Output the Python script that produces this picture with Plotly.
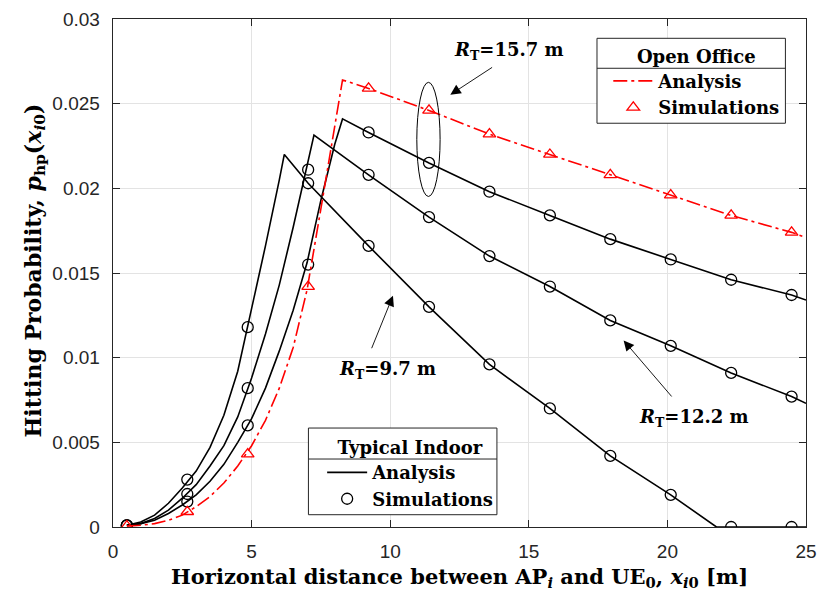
import plotly.graph_objects as go

# ---------------- data ----------------
x_sim = [0.5, 2.68, 4.86, 7.04, 9.22, 11.4, 13.58, 15.76, 17.94, 20.12, 22.3, 24.48]

# Typical Indoor, R_T = 9.7 m
x_a97 = [0.5, 1, 1.5, 2, 2.5, 3, 3.5, 4, 4.5, 5, 5.5, 6, 6.18, 7.04, 9.22, 11.4, 13.58, 15.76, 17.94, 20.12, 21.77, 25]
y_a97 = [0.0001, 0.0003, 0.0007, 0.0014, 0.0023, 0.0033, 0.0047, 0.0066, 0.0092, 0.0128, 0.0166, 0.0205, 0.0220,
         0.0203, 0.0166, 0.0130, 0.0096, 0.0070, 0.0042, 0.0019, 0.0, 0.0]
s_97 = [0.0001, 0.0028, 0.0118, 0.0203, 0.0166, 0.0130, 0.0096, 0.0070, 0.0042, 0.0019, 0.0, 0.0]

# Typical Indoor, R_T = 12.2 m
x_a122 = [0.5, 1, 1.5, 2, 2.5, 3, 3.5, 4, 4.5, 5, 5.5, 6, 6.5, 7, 7.25, 9.22, 11.4, 13.58, 15.76, 17.94, 20.12, 22.3, 24.48, 25]
y_a122 = [0.0001, 0.0002, 0.0005, 0.0010, 0.0017, 0.0025, 0.0036, 0.0048, 0.0065, 0.0088, 0.0114, 0.0143, 0.0177,
          0.0213, 0.02315, 0.0208, 0.0183, 0.0160, 0.0142, 0.0122, 0.0107, 0.0091, 0.0077, 0.0073]
s_122 = [0.0001, 0.00195, 0.0082, 0.0211, 0.0208, 0.0183, 0.0160, 0.0142, 0.0122, 0.0107, 0.0091, 0.0077]

# Typical Indoor, R_T = 15.7 m
x_a157 = [0.5, 1, 1.5, 2, 2.5, 3, 3.5, 4, 4.5, 5, 5.5, 6, 6.5, 7, 7.5, 8, 8.28, 9.22, 11.4, 13.58, 15.76, 17.94, 20.12, 22.3, 24.48, 25]
y_a157 = [0.0001, 0.0002, 0.0004, 0.0008, 0.0013, 0.0019, 0.0027, 0.0037, 0.0050, 0.0064, 0.0082, 0.0104, 0.0128,
          0.0156, 0.0193, 0.0226, 0.0241, 0.0233, 0.0215, 0.0198, 0.0184, 0.0170, 0.0158, 0.0146, 0.0137, 0.0134]
s_157 = [0.0001, 0.0015, 0.0060, 0.0155, 0.0233, 0.0215, 0.0198, 0.0184, 0.0170, 0.0158, 0.0146, 0.0137]

# Open Office, R_T = 15.7 m
x_oo = [0.5, 1, 1.5, 2, 2.5, 3, 3.5, 4, 4.5, 5, 5.5, 6, 6.5, 7, 7.5, 8, 8.28, 9.22, 11.4, 13.58, 15.76, 17.94, 20.12, 22.3, 24.48, 25]
y_oo = [0.00005, 0.0001, 0.0002, 0.0004, 0.0007, 0.0012, 0.0018, 0.0026, 0.0036, 0.0048, 0.0063, 0.0082, 0.0106,
        0.0140, 0.0188, 0.0237, 0.0264, 0.0259, 0.0246, 0.0232, 0.0220, 0.0208, 0.0196, 0.0184, 0.0174, 0.0171]
s_oo = [0.00005, 0.0009, 0.0043, 0.0142, 0.0259, 0.0246, 0.0232, 0.0220, 0.0208, 0.0196, 0.0184, 0.0174]

x_ticks = [0, 5, 10, 15, 20, 25]
y_ticks = [0, 0.005, 0.01, 0.015, 0.02, 0.025, 0.03]
y_tick_text = ["0", "0.005", "0.01", "0.015", "0.02", "0.025", "0.03"]

# ---------------- styling ----------------
SERIF = "DejaVu Serif"
SANS = "Liberation Sans"
AX = "#262626"
GRID = "#e3e3e3"

fig = go.Figure()

def line(x, y, color, dash, show, legend, name):
    fig.add_trace(go.Scatter(x=x, y=y, mode="lines", line=dict(color=color, width=1.6, dash=dash),
                             name=name, showlegend=show, legend=legend, hoverinfo="skip"))

def sims(y, color, symbol, show, legend, name):
    fig.add_trace(go.Scatter(x=x_sim, y=y, mode="markers",
                             marker=dict(symbol=symbol, size=11, color=color,
                                         line=dict(color=color, width=1.3)),
                             name=name, showlegend=show, legend=legend, hoverinfo="skip"))

line(x_a97, y_a97, "black", "solid", True, "legend", "<b>Analysis</b>")
line(x_a122, y_a122, "black", "solid", False, "legend", "Analysis")
line(x_a157, y_a157, "black", "solid", False, "legend", "Analysis")
sims(s_97, "black", "circle-open", True, "legend", "<b>Simulations</b>")
sims(s_122, "black", "circle-open", False, "legend", "Simulations")
sims(s_157, "black", "circle-open", False, "legend", "Simulations")
line(x_oo, y_oo, "#ff0000", "14px,4px,3px,4px", True, "legend2", "<b>Analysis</b>")
sims(s_oo, "#ff0000", "triangle-up-open", True, "legend2", "<b>Simulations</b>")

ann_font = dict(family=SERIF, size=18, color="black")

annotations = []
for (tx, ty, txt) in [(14.3, 0.0281, "<b><i>R</i><sub>T</sub>=15.7 m</b>"),
                      (9.91, 0.0093, "<b><i>R</i><sub>T</sub>=9.7 m</b>"),
                      (20.95, 0.00644, "<b><i>R</i><sub>T</sub>=12.2 m</b>")]:
    annotations.append(dict(x=tx, y=ty, xref="x", yref="y", text=txt, showarrow=False,
                            font=ann_font, xanchor="center", yanchor="middle"))
for (hx, hy, tx, ty) in [(12.17, 0.02553, 13.73, 0.0272),
                         (10.10, 0.01366, 9.31, 0.01047),
                         (18.42, 0.01102, 20.20, 0.00762)]:
    annotations.append(dict(x=hx, y=hy, ax=tx, ay=ty, xref="x", yref="y", axref="x", ayref="y",
                            text="", showarrow=True, arrowhead=2, arrowsize=2.3, arrowwidth=0.9,
                            arrowcolor="black"))
annotations.append(dict(x=-0.1126, y=0.505, xref="paper", yref="paper", textangle=-90,
                        text="<b>Hitting Probability, <i>p</i><sub>hp</sub>(<i>x</i><sub><i>i</i>0</sub>)</b>",
                        showarrow=False, font=dict(family=SERIF, size=22, color="black"),
                        xanchor="center", yanchor="middle"))
annotations.append(dict(x=0.5, y=-0.0997, xref="paper", yref="paper",
                        text="<b>Horizontal distance between AP<sub><i>i</i></sub> and UE<sub>0</sub>, "
                             "<i>x</i><sub><i>i</i>0</sub> [m]</b>",
                        showarrow=False, font=dict(family=SERIF, size=21, color="black"),
                        xanchor="center", yanchor="middle"))

box_line = dict(color=AX, width=1)
shapes = [
    dict(type="circle", xref="x", yref="y", x0=10.96, x1=11.80, y0=0.01952, y1=0.02626,
         line=dict(color="black", width=1)),
    # legend frames (Typical Indoor / Open Office) with title separators
    dict(type="rect", xref="paper", yref="paper", x0=0.2820, x1=0.5540, y0=0.0242, y1=0.1948,
         fillcolor="white", line=box_line, layer="above"),
    dict(type="line", xref="paper", yref="paper", x0=0.2820, x1=0.5540, y0=0.1338, y1=0.1338,
         line=box_line, layer="above"),
    dict(type="rect", xref="paper", yref="paper", x0=0.6984, x1=0.9703, y0=0.7948, y1=0.9620,
         fillcolor="white", line=box_line, layer="above"),
    dict(type="line", xref="paper", yref="paper", x0=0.6984, x1=0.9703, y0=0.9030, y1=0.9030,
         line=box_line, layer="above"),
]

legend_common = dict(bgcolor="rgba(0,0,0,0)", borderwidth=0,
                     font=dict(family=SERIF, size=18, color="black"),
                     itemwidth=40, tracegroupgap=0)

fig.update_layout(
    width=814, height=584,
    margin=dict(l=105, r=16.4, t=11, b=64.7, autoexpand=False),
    paper_bgcolor="white", plot_bgcolor="white",
    xaxis=dict(range=[0, 25], tickvals=x_ticks, ticktext=[str(v) for v in x_ticks],
               showgrid=True, gridcolor=GRID, gridwidth=1, zeroline=False, automargin=False,
               showline=True, linecolor=AX, linewidth=1, mirror="ticks",
               ticks="inside", ticklen=7, tickcolor=AX, ticklabelstandoff=7,
               tickfont=dict(family=SANS, size=19, color=AX)),
    yaxis=dict(range=[0, 0.03], tickvals=y_ticks, ticktext=[t + "\u00a0" for t in y_tick_text],
               showgrid=True, gridcolor=GRID, gridwidth=1, zeroline=False, automargin=False,
               showline=True, linecolor=AX, linewidth=1, mirror="ticks",
               ticks="inside", ticklen=7, tickcolor=AX, ticklabelstandoff=3,
               tickfont=dict(family=SANS, size=19, color=AX)),
    legend=dict(x=0.3018, y=0.1895, xanchor="left", yanchor="top",
                title=dict(text="<b>Typical Indoor</b>", side="top center",
                           font=dict(family=SERIF, size=18, color="black")),
                **legend_common),
    legend2=dict(x=0.7147, y=0.9600, xanchor="left", yanchor="top",
                 title=dict(text="<b>Open Office</b>", side="top center",
                            font=dict(family=SERIF, size=18, color="black")),
                 **legend_common),
    annotations=annotations,
    shapes=shapes,
    showlegend=True,
)

fig.write_html("out.html")
